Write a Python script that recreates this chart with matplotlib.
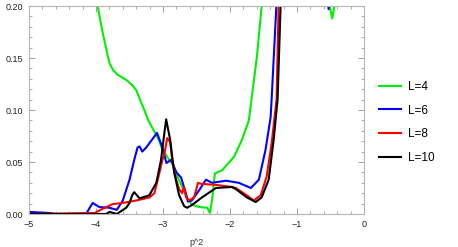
import numpy as np
import matplotlib
matplotlib.use("Agg")
import matplotlib.pyplot as plt
from matplotlib.ticker import MultipleLocator, FuncFormatter

# values (x = p^2, y = value)
x_l4 = [-4.6, -4.3, -4.1, -3.976, -3.90, -3.80, -3.74, -3.68, -3.55, -3.46, -3.40,
        -3.28, -3.22, -3.06, -3.01, -2.86, -2.80, -2.70, -2.64, -2.57, -2.46, -2.34,
        -2.30, -2.27, -2.226, -2.12, -1.94, -1.825, -1.72, -1.68, -1.60, -1.53, -1.45,
        -1.0, -0.6, -0.53, -0.475, -0.43, -0.3, 0.0]
y_l4 = [0.40, 0.30, 0.24, 0.200, 0.174, 0.145, 0.138, 0.134, 0.129, 0.124, 0.119,
        0.100, 0.090, 0.071, 0.0615, 0.048, 0.038, 0.024, 0.016, 0.009, 0.0067, 0.006,
        0.001, 0.013, 0.039, 0.042, 0.055, 0.071, 0.090, 0.11, 0.151, 0.199, 0.28,
        0.40, 0.30, 0.205, 0.188, 0.205, 0.30, 0.35]

x_l6 = [-5.0, -4.7, -4.6, -4.2, -4.14, -4.05, -3.95, -3.80, -3.69, -3.60, -3.50,
        -3.43, -3.38, -3.35, -3.31, -3.25, -3.09, -3.01, -2.95, -2.88, -2.80, -2.73,
        -2.66, -2.63, -2.57, -2.46, -2.36, -2.27, -2.06, -1.87, -1.69, -1.57, -1.47,
        -1.395, -1.38, -1.31, -1.2, -0.8, -0.53, -0.3, 0.0]
y_l6 = [0.002, 0.001, 0.0, 0.0, 0.001, 0.0106, 0.0067, 0.006, 0.004, 0.013, 0.033,
        0.052, 0.064, 0.065, 0.060, 0.064, 0.078, 0.064, 0.049, 0.052, 0.040, 0.035,
        0.020, 0.012, 0.013, 0.023, 0.033, 0.030, 0.032, 0.030, 0.025, 0.033, 0.062,
        0.093, 0.11, 0.199, 0.35, 0.40, 0.197, 0.30, 0.35]

x_l8 = [-5.0, -4.02, -3.90, -3.75, -3.60, -3.40, -3.20, -3.13, -3.09, -3.056, -3.01,
        -2.98, -2.938, -2.893, -2.864, -2.834, -2.804, -2.76, -2.715, -2.685, -2.656,
        -2.611, -2.537, -2.478, -2.433, -2.211, -1.973, -1.914, -1.751, -1.647, -1.543,
        -1.454, -1.38, -1.306, -1.276, -1.2, 0.0]
y_l8 = [0.0, 0.001, 0.005, 0.0096, 0.0106, 0.013, 0.016, 0.020, 0.030, 0.039, 0.052,
        0.058, 0.073, 0.069, 0.052, 0.042, 0.033, 0.024, 0.020, 0.026, 0.016,
        0.013, 0.016, 0.030, 0.029, 0.028, 0.026, 0.025, 0.018, 0.013, 0.018,
        0.036, 0.068, 0.11, 0.20, 0.35, 0.40]

x_l10 = [-5.0, -3.85, -3.798, -3.69, -3.55, -3.50, -3.46, -3.43, -3.35, -3.205, -3.10,
         -3.03, -2.98, -2.953, -2.893, -2.834, -2.76, -2.685, -2.641, -2.567, -2.418,
         -2.211, -1.973, -1.914, -1.751, -1.617, -1.528, -1.424, -1.35, -1.291, -1.246,
         -1.15, 0.0]
y_l10 = [0.0, 0.0, 0.002, 0.0, 0.006, 0.0106, 0.018, 0.021, 0.015, 0.018, 0.030,
         0.052, 0.078, 0.091, 0.071, 0.040, 0.018, 0.0075, 0.006, 0.0087, 0.016,
         0.025, 0.026, 0.024, 0.016, 0.0115, 0.016, 0.033, 0.071, 0.11, 0.20,
         0.35, 0.40]

labels = ["L=4", "L=6", "L=8", "L=10"]
colors = ["#00f000", "#0000ff", "#ff0000", "#000000"]

plt.rcParams["font.family"] = ["Liberation Sans", "DejaVu Sans"]

fig = plt.figure(figsize=(4.58, 2.47), dpi=100)
ax = fig.add_axes([0.0633, 0.1336, 0.7317, 0.8421])

series = [(x_l4, y_l4), (x_l6, y_l6), (x_l8, y_l8), (x_l10, y_l10)]
for (xs, ys), lab, c in zip(series, labels, colors):
    ax.plot(xs, ys, color=c, lw=1.5, label=lab)

ax.set_xlim(-5, 0)
ax.set_ylim(0, 0.2)

# Mathematica-like frame: gray spines, ticks inside on all sides
for sp in ax.spines.values():
    sp.set_color("#b4b4b4")
    sp.set_linewidth(0.8)
ax.xaxis.set_major_locator(MultipleLocator(1))
ax.xaxis.set_minor_locator(MultipleLocator(0.2))
ax.yaxis.set_major_locator(MultipleLocator(0.05))
ax.yaxis.set_minor_locator(MultipleLocator(0.01))
ax.xaxis.set_major_formatter(FuncFormatter(lambda v, p: "0" if abs(v) < 1e-9 else "\u2212%d" % abs(round(v))))
ax.yaxis.set_major_formatter(FuncFormatter(lambda v, p: "%.2f" % v))
ax.tick_params(which="both", direction="in", top=True, right=True,
               color="#a0a0a0", labelsize=6.5, labelcolor="#222222", pad=4)
ax.tick_params(which="major", length=4, width=0.7)
ax.tick_params(which="minor", length=2, width=0.6)

ax.set_xlabel("p^2", fontsize=6.5, color="#333333", labelpad=7)

ax.legend(loc="center left", bbox_to_anchor=(1.045, 0.44), frameon=False,
          fontsize=8.5, handlelength=1.85, labelspacing=1.0, handletextpad=0.6,
          borderpad=0, borderaxespad=0)

fig.savefig("out.png", dpi=100)
